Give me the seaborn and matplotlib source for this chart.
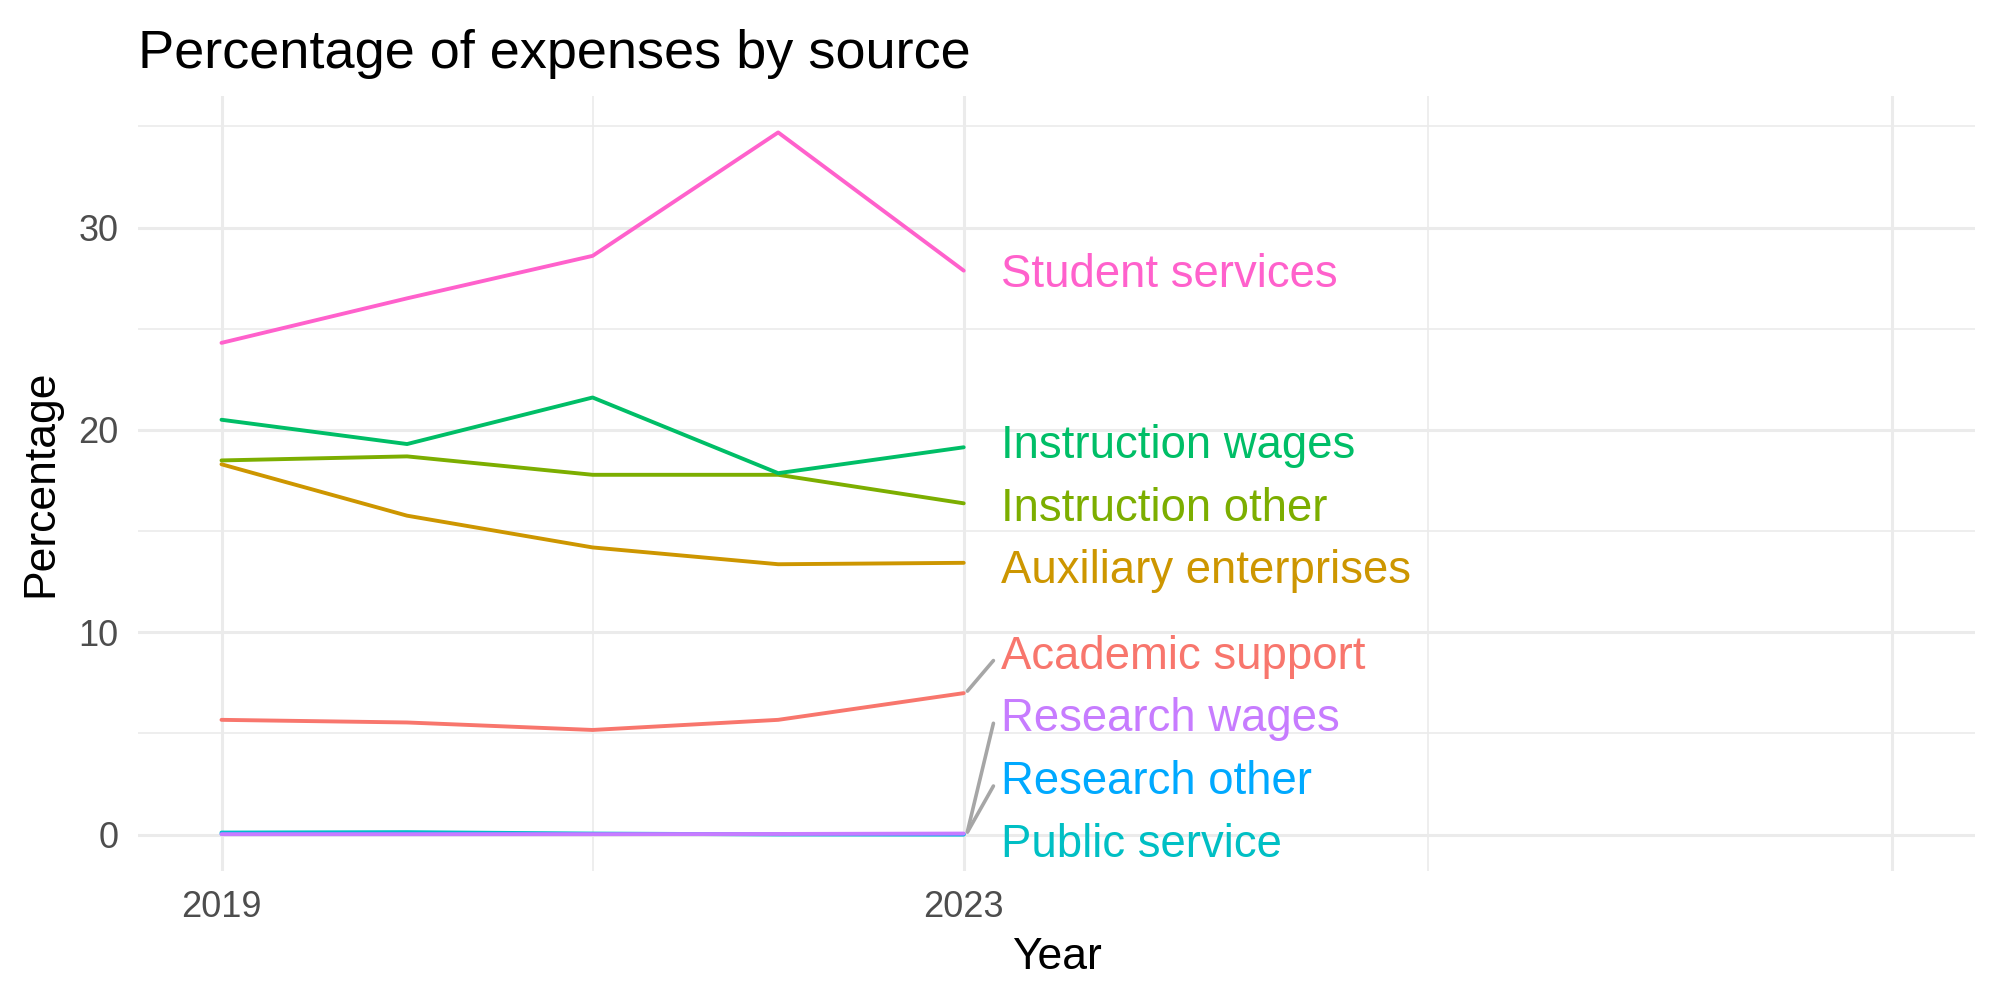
import matplotlib
matplotlib.use("Agg")
import matplotlib.pyplot as plt
import numpy as np
import pandas as pd
import seaborn as sns
from matplotlib.ticker import FixedLocator

# Data
years = [2019, 2020, 2021, 2022, 2023]
academic_support = [5.67, 5.54, 5.17, 5.67, 6.99]
auxiliary_enterprises = [18.3, 15.76, 14.19, 13.36, 13.43]
instruction_other = [18.49, 18.69, 17.78, 17.78, 16.37]
instruction_wages = [20.5, 19.3, 21.6, 17.86, 19.14]
public_service = [0.10, 0.12, 0.05, 0.01, 0.0]
research_other = [0.04, 0.04, 0.03, 0.02, 0.02]
research_wages = [0.02, 0.02, 0.02, 0.03, 0.05]
student_services = [24.3, 26.5, 28.6, 34.7, 27.87]

sources = ['Academic support', 'Auxiliary enterprises', 'Instruction other',
           'Instruction wages', 'Public service', 'Research other',
           'Research wages', 'Student services']
series = [academic_support, auxiliary_enterprises, instruction_other,
          instruction_wages, public_service, research_other,
          research_wages, student_services]
colors = ['#F8766D', '#CD9600', '#7CAE00', '#00BE67',
          '#00BFC4', '#00A9FF', '#C77CFF', '#FF61CC']

df = pd.concat([pd.DataFrame({'Year': years, 'Percentage': vals, 'source': name})
                for name, vals in zip(sources, series)], ignore_index=True)
palette = dict(zip(sources, colors))


def repel(ends, gap, lower):
    # stack labels so they don't overlap, pooling overlapping clusters
    order = np.argsort(ends, kind='stable')
    clusters = []

    def base_of(c, first):
        b = np.mean([ends[j] - k * gap for k, j in enumerate(c)])
        return max(b, lower) if first else b

    for i in order:
        clusters.append([i])
        while len(clusters) > 1:
            c, p = clusters[-1], clusters[-2]
            if base_of(p, len(clusters) == 2) + len(p) * gap > base_of(c, False):
                clusters[-2] = p + c
                clusters.pop()
            else:
                break
    pos = {}
    for ci, c in enumerate(clusters):
        base = base_of(c, ci == 0)
        for k, j in enumerate(c):
            pos[j] = base + k * gap
    return [pos[i] for i in range(len(ends))]


sns.set_theme(style="whitegrid")
plt.rcParams['font.family'] = ['Liberation Sans', 'DejaVu Sans']

fig, ax = plt.subplots(figsize=(10, 5), dpi=200)
fig.subplots_adjust(left=0.069, right=0.9875, top=0.904, bottom=0.129)

sns.lineplot(data=df, x='Year', y='Percentage', hue='source', hue_order=sources,
             palette=palette, linewidth=1.4, legend=False, ax=ax)

# labels at line ends, repelled vertically
ends = [vals[-1] for vals in series]
label_y = repel(ends, 3.1, -0.3)
for name, col, y_end, y_lab in zip(sources, colors, ends, label_y):
    ax.text(2023.2, y_lab - 0.2, name, color=col, fontsize=16.4,
            ha='left', va='center')
    if abs(y_lab - y_end) > 1:
        ax.plot([2023.02, 2023.16], [y_end + 0.1, y_lab - 0.4],
                color='#A6A6A6', linewidth=1.3, solid_capstyle='round')

ax.set_xlim(2018.55, 2028.45)
ax.set_ylim(-1.8, 36.5)

ax.xaxis.set_major_locator(FixedLocator([2019, 2023, 2028]))
ax.set_xticklabels(['2019', '2023', ''])
ax.xaxis.set_minor_locator(FixedLocator([2021, 2025.5]))
ax.yaxis.set_major_locator(FixedLocator([0, 10, 20, 30]))
ax.yaxis.set_minor_locator(FixedLocator([5, 15, 25, 35]))

ax.grid(which='major', color='#EBEBEB', linewidth=1.1)
ax.grid(which='minor', color='#EBEBEB', linewidth=0.6)
for s in ax.spines.values():
    s.set_visible(False)
ax.tick_params(which='both', length=0, labelsize=13, labelcolor='#4D4D4D')
ax.tick_params(axis='x', pad=7)
ax.tick_params(axis='y', pad=7)

ax.set_xlabel('Year', fontsize=16, color='black', labelpad=4)
ax.set_ylabel('Percentage', fontsize=16, color='black', labelpad=6)
ax.set_title('Percentage of expenses by source', loc='left', fontsize=19.5,
             color='black', pad=10)

plt.savefig('out.png', dpi=200, facecolor='white')
plt.close(fig)
